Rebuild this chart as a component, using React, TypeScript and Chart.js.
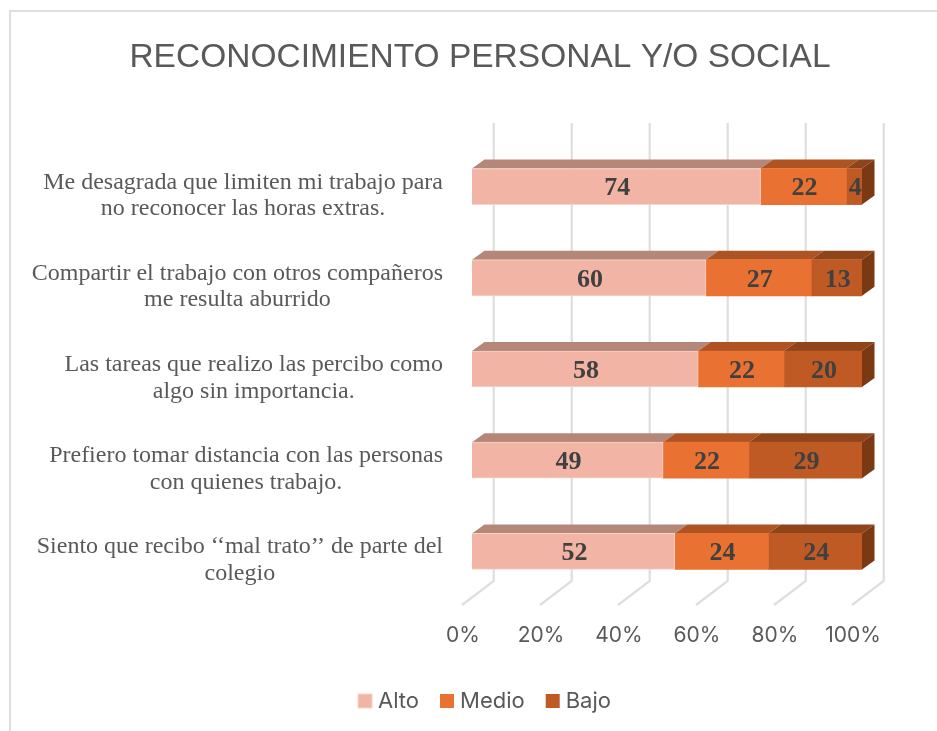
import React, { useEffect, useRef } from "react";
import { Chart, registerables } from "chart.js";

Chart.register(...registerables);

const categories = [
  ["Me desagrada que limiten mi trabajo para", "no reconocer las horas extras."],
  ["Compartir el trabajo con otros compañeros", "me resulta aburrido"],
  ["Las tareas que realizo las percibo como", "algo sin importancia."],
  ["Prefiero tomar distancia con las personas", "con quienes trabajo."],
  ["Siento que recibo ‘‘mal trato’’ de parte del", "colegio"],
];
const alto = [74, 60, 58, 49, 52];
const medio = [22, 27, 22, 22, 24];
const bajo = [4, 13, 20, 29, 24];
const titleText = "RECONOCIMIENTO PERSONAL Y/O SOCIAL";

const frontColors = ["#F2B5A5", "#E97132", "#C05A25"];
const topColors = ["#B58779", "#B05322", "#8F441A"];
const sideColor = "#7A3813";
const gridColor = "#DEDEDE";
const textDark = "#404040";
const textGrey = "#595959";
const serif = "'Liberation Serif', serif";
const sans = "'Liberation Sans', sans-serif";
const axisFont = "Inter, sans-serif";

const depthX = 12.5;
const depthY = 9;

const poly = (ctx: CanvasRenderingContext2D, pts: number[][], fill: string) => {
  ctx.beginPath();
  pts.forEach((p, i) => (i ? ctx.lineTo(p[0], p[1]) : ctx.moveTo(p[0], p[1])));
  ctx.closePath();
  ctx.fillStyle = fill;
  ctx.fill();
};

const threeD = {
  id: "threeD",
  afterLayout(chart: any) {
    const lg = chart.legend;
    if (lg) {
      lg.left += 7;
      lg.right += 7;
      lg.top += 7;
      lg.bottom += 7;
    }
  },
  beforeDraw(chart: any) {
    const { ctx, width, height } = chart;
    ctx.save();
    ctx.strokeStyle = gridColor;
    ctx.lineWidth = 2;
    ctx.beginPath();
    ctx.moveTo(10, height);
    ctx.lineTo(10, 11);
    ctx.lineTo(width, 11);
    ctx.stroke();
    ctx.restore();
  },
  beforeDatasetsDraw(chart: any) {
    const { ctx, chartArea, scales } = chart;
    const xs = scales.x;
    ctx.save();
    ctx.strokeStyle = gridColor;
    ctx.lineWidth = 2.2;
    const top = chartArea.top - 18;
    const back = chartArea.bottom - 16;
    const front = chartArea.bottom + 8;
    xs.ticks.forEach((t: any) => {
      const px = xs.getPixelForValue(t.value);
      ctx.beginPath();
      ctx.moveTo(px + 21.7, top);
      ctx.lineTo(px + 21.7, back);
      ctx.lineTo(px - 10, front);
      ctx.stroke();
    });
    ctx.restore();

    chart.data.datasets.forEach((_d: any, di: number) => {
      chart.getDatasetMeta(di).data.forEach((b: any) => {
        const y0 = b.y - b.height / 2;
        poly(
          ctx,
          [
            [b.base, y0],
            [b.base + depthX, y0 - depthY],
            [b.x + depthX, y0 - depthY],
            [b.x, y0],
          ],
          topColors[di]
        );
      });
    });
    const last = chart.getDatasetMeta(chart.data.datasets.length - 1);
    last.data.forEach((b: any) => {
      const y0 = b.y - b.height / 2;
      const y1 = b.y + b.height / 2;
      poly(
        ctx,
        [
          [b.x, y0],
          [b.x + depthX, y0 - depthY],
          [b.x + depthX, y1 - depthY],
          [b.x, y1],
        ],
        sideColor
      );
    });
  },
  afterDatasetsDraw(chart: any) {
    const { ctx, scales } = chart;
    ctx.save();
    ctx.textAlign = "center";
    ctx.textBaseline = "middle";
    ctx.fillStyle = textDark;
    ctx.font = `bold 26px ${serif}`;
    chart.data.datasets.forEach((d: any, di: number) => {
      chart.getDatasetMeta(di).data.forEach((b: any, i: number) => {
        ctx.fillText(String(d.data[i]), (b.base + b.x) / 2 + 1, b.y + 2);
      });
    });
    ctx.font = `24px ${serif}`;
    ctx.fillStyle = textGrey;
    const rightEdge = 443;
    const lineStep = 26.7;
    categories.forEach((lines, i) => {
      const cy = scales.y.getPixelForValue(i) + 9;
      const w = Math.max(...lines.map((l) => ctx.measureText(l).width));
      lines.forEach((l, k) => {
        ctx.fillText(l, rightEdge - w / 2, cy + (k - (lines.length - 1) / 2) * lineStep);
      });
    });
    ctx.restore();
  },
};

export default function App() {
  const ref = useRef<HTMLCanvasElement>(null);
  useEffect(() => {
    if (!ref.current) return;
    const mk = (label: string, data: number[], i: number) => ({
      label,
      data,
      backgroundColor: frontColors[i],
      borderColor: i === 0 ? "#F7D3C9" : frontColors[i],
      borderWidth: i === 0 ? 1 : 0,
      barThickness: 36,
    });
    const chart = new Chart(ref.current, {
      type: "bar",
      data: {
        labels: categories.map((c) => c.join(" ")),
        datasets: [mk("Alto", alto, 0), mk("Medio", medio, 1), mk("Bajo", bajo, 2)],
      },
      plugins: [threeD],
      options: {
        indexAxis: "y",
        responsive: false,
        animation: false,
        layout: { padding: { left: 98, right: 75, top: 0, bottom: 16 } },
        scales: {
          x: {
            stacked: true,
            min: 0,
            max: 100,
            border: { display: false },
            grid: { display: false },
            afterFit: (s: any) => {
              s.height = 60;
            },
            ticks: {
              stepSize: 20,
              maxRotation: 0,
              autoSkip: false,
              padding: 18,
              labelOffset: -9,
              color: textGrey,
              font: { family: axisFont, size: 21 },
              callback: (v: any) => `${v}%`,
            },
          },
          y: {
            stacked: true,
            border: { display: false },
            grid: { display: false },
            ticks: { display: false },
            afterFit: (s: any) => {
              s.width = 374;
            },
          },
        },
        plugins: {
          tooltip: { enabled: false },
          title: {
            display: true,
            text: titleText,
            color: textGrey,
            font: { family: sans, size: 33.5, weight: "normal" },
            padding: { top: 38, bottom: 62.8 },
          },
          legend: {
            position: "bottom",
            labels: {
              usePointStyle: true,
              pointStyle: "rect",
              boxWidth: 4,
              boxHeight: 14,
              padding: 26,
              color: textGrey,
              font: { family: axisFont, size: 22 },
            },
          },
        },
      },
    } as any);
    return () => chart.destroy();
  }, []);
  return (
    <div style={{ position: "absolute", left: 0, top: 0, width: 937, height: 731, background: "#fff" }}>
      <canvas ref={ref} width={937} height={731} style={{ display: "block" }} />
    </div>
  );
}
